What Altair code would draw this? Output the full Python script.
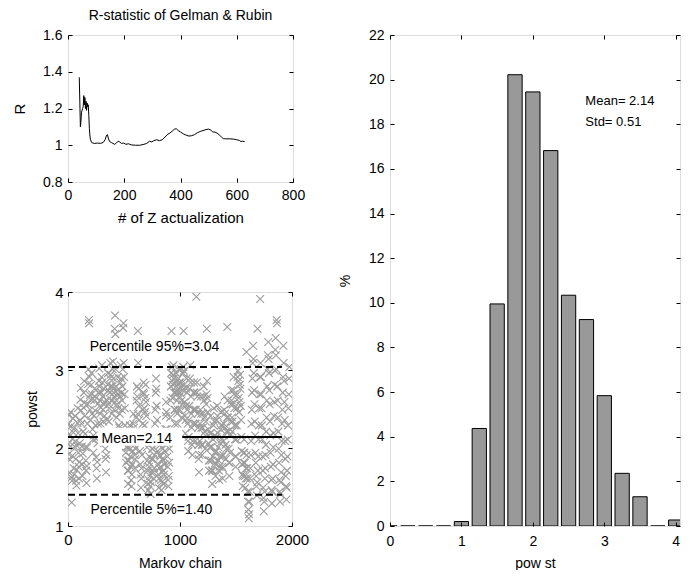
import altair as alt
import pandas as pd

FONT = "Liberation Sans"
GRAY = "#9c9c9c"

# ---------------- data ----------------
# R-statistic of Gelman & Rubin
r_iter = [40, 42, 44, 46, 48, 50, 52, 54, 56, 58, 60, 62, 64, 66, 68, 70, 72, 74, 76, 78,
          80, 84, 88, 95, 105, 115, 125, 132, 136, 140, 144, 148, 154, 160, 166, 172, 178,
          184, 190, 198, 206, 215, 225, 240, 255, 270, 280, 290, 298, 305, 315, 325, 335,
          345, 355, 362, 370, 378, 385, 392, 400, 410, 420, 430, 440, 450, 460, 470, 480,
          490, 500, 508, 515, 522, 530, 538, 545, 552, 560, 575, 590, 600, 610, 615, 620, 628]
r_value = [1.37, 1.24, 1.10, 1.13, 1.18, 1.19, 1.20, 1.21, 1.27, 1.22, 1.26, 1.20, 1.24, 1.19,
           1.23, 1.21, 1.22, 1.16, 1.09, 1.05, 1.03, 1.015, 1.012, 1.01, 1.012, 1.01, 1.015,
           1.03, 1.05, 1.058, 1.035, 1.02, 1.015, 1.01, 1.005, 1.012, 1.022, 1.018, 1.01,
           1.012, 1.005, 1.008, 1.002, 1.0, 1.0, 1.005, 1.01, 1.022, 1.018, 1.025, 1.03,
           1.025, 1.03, 1.045, 1.06, 1.066, 1.076, 1.087, 1.09, 1.08, 1.072, 1.062, 1.055,
           1.05, 1.052, 1.058, 1.068, 1.075, 1.08, 1.085, 1.088, 1.082, 1.072, 1.072, 1.066,
           1.056, 1.046, 1.036, 1.035, 1.035, 1.033, 1.03, 1.026, 1.02, 1.022, 1.02]

# Markov chain of powst (thinned: one value every 3 iterations)
chain_thin = 3
chain_values = [
    2.30, 2.05, 1.92, 2.42, 2.18, 1.68, 1.85, 2.02, 2.46, 2.28, 1.62, 1.30, 1.58, 1.90, 2.12, 2.38, 2.20, 1.74, 1.66, 2.02,
    2.26, 2.41, 2.08, 1.86, 1.58, 1.52, 1.72, 2.03, 2.32, 2.51, 2.19, 1.94, 1.76, 1.61, 1.82, 2.06, 2.36, 2.62, 2.77, 2.48,
    2.31, 2.02, 1.79, 1.64, 1.93, 2.21, 2.52, 2.71, 2.86, 2.58, 2.41, 2.18, 2.01, 1.84, 1.71, 1.55, 1.77, 2.01, 2.31, 2.56,
    2.82, 3.01, 3.64, 3.60, 2.91, 2.68, 2.49, 2.36, 2.62, 2.81, 2.96, 2.69, 2.44, 2.24, 2.11, 1.94, 2.16, 2.41, 2.61, 2.76,
    2.66, 2.48, 2.29, 2.12, 1.88, 1.74, 1.61, 1.82, 2.06, 2.31, 2.57, 2.71, 2.86, 3.02, 2.79, 2.61, 2.44, 2.31, 2.52, 2.71,
    2.91, 3.06, 2.84, 2.66, 2.49, 2.34, 2.56, 2.76, 2.59, 2.41, 2.19, 1.99, 1.86, 1.69, 1.91, 2.11, 2.36, 2.61, 2.81, 2.96,
    2.74, 2.56, 2.34, 2.51, 2.71, 2.89, 3.09, 2.94, 2.79, 2.61, 2.44, 2.61, 2.79, 3.01, 3.11, 2.89, 2.71, 2.49, 2.66, 3.53,
    3.70, 3.46, 3.01, 2.79, 2.61, 2.39, 2.56, 2.74, 2.91, 2.69, 2.51, 2.29, 2.09, 2.26, 2.44, 2.66, 2.84, 3.06, 2.89, 2.71,
    2.49, 2.61, 2.79, 3.01, 3.54, 3.60, 3.09, 2.91, 2.69, 2.51, 2.29, 2.11, 1.94, 1.81, 2.01, 2.19, 2.01, 1.84, 1.71, 1.54,
    1.71, 1.84, 2.01, 2.16, 2.29, 2.11, 1.89, 1.76, 1.59, 1.51, 1.66, 1.79, 1.96, 2.09, 2.31, 2.44, 2.26, 2.04, 1.91, 1.74,
    1.86, 1.99, 2.21, 2.39, 2.61, 2.79, 2.66, 2.44, 3.50, 3.09, 2.76, 2.54, 2.36, 2.14, 1.96, 1.79, 1.66, 1.49, 1.61, 1.74,
    1.91, 2.09, 2.31, 2.49, 2.71, 2.84, 2.69, 2.51, 2.29, 2.46, 2.64, 2.81, 2.59, 2.41, 2.19, 2.01, 1.84, 1.71, 1.54, 1.46,
    1.59, 1.76, 1.89, 1.81, 1.64, 1.51, 1.41, 1.56, 1.69, 1.86, 1.99, 2.16, 1.99, 1.86, 1.69, 1.61, 1.74, 1.91, 2.09, 2.31,
    2.49, 2.71, 2.89, 2.76, 2.54, 2.36, 2.14, 1.96, 1.79, 1.66, 1.49, 1.61, 1.74, 1.91, 2.04, 1.89, 1.76, 1.59, 1.46, 1.56,
    1.69, 1.86, 1.99, 1.84, 1.71, 1.54, 1.66, 1.79, 1.96, 2.11, 2.24, 2.41, 2.59, 2.46, 2.24, 2.06, 1.89, 1.76, 1.59, 1.51,
    1.64, 1.81, 1.99, 2.21, 2.39, 2.61, 2.79, 2.96, 3.50, 3.04, 2.86, 2.64, 2.81, 2.94, 3.06, 2.89, 2.71, 2.49, 2.31, 2.49,
    2.71, 2.84, 2.96, 2.79, 2.61, 2.44, 2.31, 2.49, 2.71, 2.89, 3.01, 2.84, 2.66, 2.49, 2.71, 2.84, 3.01, 2.79, 2.61, 2.39,
    2.56, 2.74, 2.96, 3.04, 3.50, 2.99, 2.81, 2.59, 2.41, 2.19, 2.36, 2.54, 2.76, 2.89, 2.71, 2.49, 2.31, 2.09, 1.96, 2.14,
    2.36, 2.54, 2.76, 2.89, 3.06, 2.84, 2.66, 2.44, 2.26, 2.04, 1.91, 2.09, 2.31, 2.49, 2.71, 2.84, 2.71, 2.49, 2.31, 2.09,
    2.31, 2.49, 3.94, 2.71, 2.84, 2.66, 2.44, 2.26, 2.04, 1.86, 1.69, 1.91, 2.09, 2.31, 2.49, 2.66, 2.44, 2.26, 2.04, 1.91,
    2.04, 2.26, 2.44, 2.66, 2.79, 2.61, 2.39, 2.21, 1.99, 2.16, 2.34, 2.56, 2.69, 3.53, 2.86, 2.64, 2.46, 2.24, 2.06, 1.84,
    1.71, 1.84, 2.01, 2.19, 2.41, 2.19, 2.01, 1.84, 1.71, 1.54, 1.71, 1.89, 2.11, 2.29, 2.51, 2.34, 2.16, 1.94, 1.81, 1.64,
    1.79, 1.96, 2.14, 2.36, 2.54, 2.41, 2.19, 2.01, 1.84, 1.71, 1.59, 1.76, 1.89, 2.06, 2.24, 2.46, 2.29, 2.11, 1.89, 1.76,
    1.61, 1.74, 1.91, 2.09, 2.31, 2.49, 2.66, 2.44, 2.26, 2.04, 1.86, 1.99, 2.21, 2.39, 3.55, 2.61, 2.39, 2.21, 1.99, 1.81,
    1.64, 1.81, 1.94, 2.16, 2.34, 2.56, 2.74, 2.61, 2.39, 2.21, 2.34, 2.56, 2.74, 2.91, 2.69, 2.51, 2.29, 2.11, 1.89, 1.76,
    1.89, 2.11, 2.29, 2.51, 2.69, 2.91, 2.99, 2.86, 2.64, 2.46, 2.59, 2.81, 2.94, 2.76, 2.54, 2.36, 2.14, 1.96, 1.79, 1.66,
    1.51, 1.64, 1.81, 1.94, 2.11, 1.94, 1.81, 1.64, 1.49, 1.61, 1.74, 3.23, 1.91, 1.74, 1.61, 1.44, 1.31, 1.21, 1.10, 1.15,
    1.31, 1.44, 1.61, 1.74, 1.91, 2.09, 2.31, 2.49, 2.71, 2.89, 3.09, 3.31, 3.14, 2.96, 2.74, 2.56, 2.34, 2.16, 1.94, 1.81,
    1.64, 1.51, 1.39, 1.56, 3.53, 1.71, 1.89, 2.11, 2.29, 2.51, 2.69, 2.91, 3.91, 3.09, 2.91, 2.69, 2.51, 2.29, 2.11, 1.89,
    1.71, 1.49, 1.36, 1.19, 1.31, 1.44, 1.61, 1.74, 1.91, 2.04, 2.21, 2.39, 2.61, 2.79, 3.01, 3.19, 3.36, 3.14, 2.96, 2.74,
    2.56, 2.34, 2.16, 1.94, 1.76, 1.59, 1.46, 1.29, 1.44, 1.61, 1.79, 2.01, 2.19, 2.41, 2.59, 2.81, 2.99, 3.26, 3.41, 3.19,
    3.01, 3.64, 3.60, 2.79, 2.61, 2.39, 2.21, 1.99, 1.81, 1.59, 1.44, 1.31, 1.41, 1.56, 1.69, 1.91, 2.09, 2.31, 2.49, 2.71,
    2.91, 3.31, 3.09, 2.86, 2.59, 2.36, 2.09, 1.86, 1.64, 1.51, 1.34, 1.49, 1.71, 1.89, 2.11, 2.29, 2.51, 2.69, 2.89, 3.04,
]
chain_iter = [i * chain_thin for i in range(len(chain_values))]
chain_end = 1910
pct95_value, mean_value, pct5_value = 3.04, 2.14, 1.40

# Histogram of powst (% of draws per bin)
hist_center = [0.0, 0.25, 0.5, 0.75, 1.0, 1.25, 1.5, 1.75, 2.0, 2.25, 2.5, 2.75, 3.0, 3.25, 3.5, 3.75, 4.0]
hist_pct = [0, 0, 0, 0, 0.2, 4.37, 9.95, 20.22, 19.45, 16.82, 10.34, 9.25, 5.84, 2.36, 1.31, 0, 0.27]
bar_half = 0.1

# ---------------- helpers ----------------
def main_axis(title, values, label_pad, title_pad, lsize=14, tsize=14, expr=None):
    kw = dict(title=title, values=values, offset=-4, tickSize=4, tickColor="black",
              tickWidth=1, domain=False, grid=False, labelPadding=label_pad,
              titlePadding=title_pad, labelFont=FONT, titleFont=FONT,
              labelFontSize=lsize, titleFontSize=tsize, labelColor="black",
              titleColor="black", titleFontWeight="normal", labelFlush=False,
              labelOverlap=False, zindex=2, minExtent=0)
    if expr is not None:
        kw["labelExpr"] = expr
    return alt.Axis(**kw)


def mirror_axis(orient, values):
    return alt.Axis(orient=orient, values=values, offset=-4, tickSize=4,
                    tickColor="black", tickWidth=1, labels=False, domain=False,
                    grid=False, title=None, zindex=2, minExtent=0, maxExtent=0)


# ---------------- top-left: R statistic ----------------
r_df = pd.DataFrame({"iter": r_iter, "R": r_value})
rx_vals = [0, 200, 400, 600, 800]
ry_vals = [0.8, 1.0, 1.2, 1.4, 1.6]
rx_scale = alt.Scale(domain=[0, 800], nice=False, zero=False)
ry_scale = alt.Scale(domain=[0.8, 1.6], nice=False, zero=False)

r_line = alt.Chart(r_df).mark_line(color="black", strokeWidth=1).encode(
    x=alt.X("iter:Q", scale=rx_scale,
            axis=main_axis("# of Z actualization", rx_vals, 6, 8, 14, 15)),
    y=alt.Y("R:Q", scale=ry_scale,
            axis=main_axis("R", ry_vals, 6, 15, 14, 15, "format(datum.value, '~g')")),
)
r_mirror = alt.Chart(r_df).mark_line(opacity=0).encode(
    x=alt.X("iter:Q", scale=rx_scale, axis=mirror_axis("top", rx_vals)),
    y=alt.Y("R:Q", scale=ry_scale, axis=mirror_axis("right", ry_vals)),
)
top_left = alt.layer(r_line, r_mirror).resolve_axis(
    x="independent", y="independent"
).properties(
    width=225, height=147,
    title=alt.TitleParams("R-statistic of Gelman & Rubin", font=FONT, fontSize=14,
                          fontWeight="normal", color="black", anchor="middle", offset=5),
)

# ---------------- bottom-left: Markov chain ----------------
c_df = pd.DataFrame({"iter": chain_iter, "powst": chain_values})
cx_vals = [0, 1000, 2000]
cy_vals = [1, 2, 3, 4]
cx_scale = alt.Scale(domain=[0, 2000], nice=False, zero=False)
cy_scale = alt.Scale(domain=[1, 4], nice=False, zero=False)

pts = alt.Chart(c_df).mark_point(
    shape="M-1,-1L1,1M-1,1L1,-1", filled=False, size=60, strokeWidth=1.1,
    color=GRAY, opacity=1, clip=True,
).encode(
    x=alt.X("iter:Q", scale=cx_scale,
            axis=main_axis("Markov chain", cx_vals, 6, 9, 15, 14, "format(datum.value, 'd')")),
    y=alt.Y("powst:Q", scale=cy_scale,
            axis=main_axis("powst", cy_vals, 5, 15, 15, 14)),
)
c_mirror = alt.Chart(c_df).mark_point(opacity=0).encode(
    x=alt.X("iter:Q", scale=cx_scale, axis=mirror_axis("top", cx_vals)),
    y=alt.Y("powst:Q", scale=cy_scale, axis=mirror_axis("right", cy_vals)),
)

lines_df = pd.DataFrame({"level": [pct95_value, mean_value, pct5_value],
                         "kind": ["p95", "mean", "p5"], "x0": [0, 0, 0],
                         "x1": [chain_end] * 3})
dashed = alt.Chart(lines_df).transform_filter("datum.kind != 'mean'").mark_rule(
    color="black", strokeWidth=2, strokeDash=[7, 4]).encode(
    x=alt.X("x0:Q", scale=cx_scale, axis=None), x2="x1:Q",
    y=alt.Y("level:Q", scale=cy_scale, axis=None))
solid = alt.Chart(lines_df).transform_filter("datum.kind == 'mean'").mark_rule(
    color="black", strokeWidth=2).encode(
    x=alt.X("x0:Q", scale=cx_scale, axis=None), x2="x1:Q",
    y=alt.Y("level:Q", scale=cy_scale, axis=None))

ann_df = pd.DataFrame({
    "label": ["Percentile 95%=3.04", "Mean=2.14", "Percentile 5%=1.40"],
    "tx": [194, 299, 200], "ty": [3.29, 2.12, 1.21],
    "bx0": [165, 267, 170], "bx1": [1480, 1020, 1420],
    "by0": [3.18, 2.03, 1.10], "by1": [3.40, 2.26, 1.32],
})
boxes = alt.Chart(ann_df).mark_rect(color="white").encode(
    x=alt.X("bx0:Q", scale=cx_scale, axis=None), x2="bx1:Q",
    y=alt.Y("by0:Q", scale=cy_scale, axis=None), y2="by1:Q")
ann_text = alt.Chart(ann_df).mark_text(
    align="left", baseline="middle", font=FONT, fontSize=14, color="black").encode(
    x=alt.X("tx:Q", scale=cx_scale, axis=None), y=alt.Y("ty:Q", scale=cy_scale, axis=None),
    text="label:N")

bottom_left = alt.layer(pts, c_mirror, dashed, solid, boxes, ann_text).resolve_axis(
    x="independent", y="independent"
).properties(width=224, height=234)

# ---------------- right: histogram ----------------
h_df = pd.DataFrame({"center": hist_center, "pct": hist_pct})
hx_vals = [0, 1, 2, 3, 4]
hy_vals = list(range(0, 23, 2))
hx_scale = alt.Scale(domain=[0, 4.06], nice=False, zero=False)
hy_scale = alt.Scale(domain=[0, 22], nice=False, zero=False)

bars = alt.Chart(h_df).transform_calculate(
    left=f"datum.center - {bar_half}", right=f"datum.center + {bar_half}", base="0"
).mark_rect(fill="#999999", stroke="black", strokeWidth=1, clip=True).encode(
    x=alt.X("left:Q", scale=hx_scale, axis=main_axis("pow st", hx_vals, 8, 8, 14, 14)),
    x2="right:Q",
    y=alt.Y("pct:Q", scale=hy_scale, axis=main_axis("%", hy_vals, 6, 16, 14, 14)),
    y2="base:Q",
)
h_mirror = alt.Chart(h_df).mark_point(opacity=0).encode(
    x=alt.X("center:Q", scale=hx_scale, axis=mirror_axis("top", hx_vals)),
    y=alt.Y("pct:Q", scale=hy_scale, axis=mirror_axis("right", hy_vals)),
)
stats_df = pd.DataFrame({"label": ["Mean= 2.14", "Std= 0.51"], "x": [2.735, 2.735],
                         "y": [19.06, 18.12]})
stats = alt.Chart(stats_df).mark_text(
    align="left", baseline="middle", font=FONT, fontSize=13, color="black").encode(
    x=alt.X("x:Q", scale=hx_scale, axis=None), y=alt.Y("y:Q", scale=hy_scale, axis=None),
    text="label:N")

right = alt.layer(bars, h_mirror, stats).resolve_axis(
    x="independent", y="independent"
).properties(
    width=290, height=491,
    title=alt.TitleParams(" ", font=FONT, fontSize=14, fontWeight="normal",
                          color="black", anchor="middle", offset=5),
)

left_col = alt.vconcat(top_left, bottom_left, spacing=58)
chart = alt.hconcat(left_col, right, spacing=27).properties(
    padding={"left": 4, "top": 0, "right": 0, "bottom": -1}
).configure_view(stroke="black", strokeWidth=1).configure(background="white")

chart.save("out.html", embed_options={"renderer": "svg", "actions": False})
